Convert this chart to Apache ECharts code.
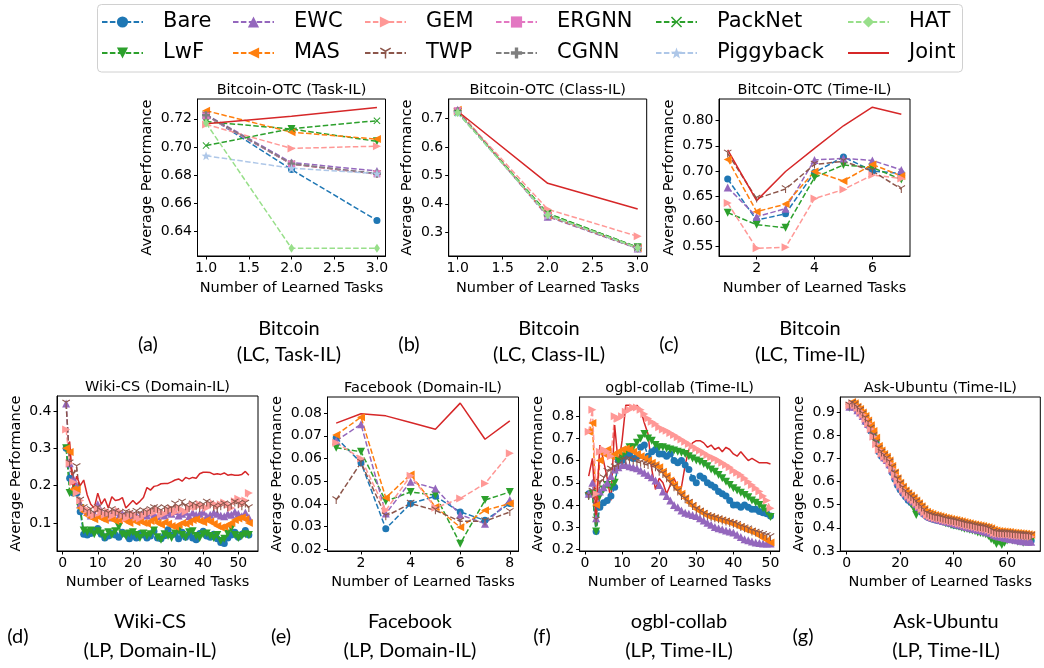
<!DOCTYPE html>
<html>
<head>
<meta charset="utf-8">
<script src="https://cdn.jsdelivr.net/npm/echarts@6/dist/echarts.min.js"></script>
<style>
html, body { margin: 0; padding: 0; background: #fff; }
#main { width: 1044px; height: 668px; }
</style>
</head>
<body>
<div id="main"></div>
<script>
// (a) Bitcoin-OTC Task-IL, tasks 1..3
const aTasks = [1, 2, 3];
const aBare = [0.7228, 0.684, 0.648];
const aLwF = [0.718, 0.7127, 0.704];
const aEWC = [0.723, 0.689, 0.683];
const aMAS = [0.7257, 0.7105, 0.7056];
const aGEM = [0.716, 0.699, 0.7006];
const aTWP = [0.7225, 0.6878, 0.6808];
const aERGNN = [0.722, 0.688, 0.681];
const aCGNN = [0.7225, 0.6882, 0.6812];
const aPackNet = [0.701, 0.713, 0.7186];
const aPiggyback = [0.6938, 0.685, 0.6812];
const aHAT = [0.717, 0.6283, 0.6283];
const aJoint = [0.7165, 0.7217, 0.728];

// (b) Bitcoin-OTC Class-IL
const bTasks = [1, 2, 3];
const bBare = [0.725, 0.36, 0.245];
const bLwF = [0.722, 0.365, 0.248];
const bEWC = [0.73, 0.355, 0.243];
const bMAS = [0.73, 0.358, 0.245];
const bGEM = [0.725, 0.381, 0.286];
const bTWP = [0.724, 0.36, 0.244];
const bERGNN = [0.727, 0.36, 0.245];
const bCGNN = [0.725, 0.36, 0.245];
const bPackNet = [0.72, 0.367, 0.247];
const bPiggyback = [0.72, 0.36, 0.245];
const bHAT = [0.72, 0.362, 0.246];
const bJoint = [0.725, 0.472, 0.382];

// (c) Bitcoin-OTC Time-IL, tasks 1..7
const cTasks = [1, 2, 3, 4, 5, 6, 7];
const cBare = [0.684, 0.602, 0.615, 0.697, 0.728, 0.700, 0.695];
const cLwF = [0.617, 0.593, 0.587, 0.687, 0.712, 0.707, 0.683];
const cEWC = [0.667, 0.609, 0.625, 0.722, 0.725, 0.721, 0.702];
const cMAS = [0.723, 0.619, 0.634, 0.699, 0.680, 0.713, 0.690];
const cGEM = [0.636, 0.546, 0.548, 0.645, 0.663, 0.692, 0.685];
const cTWP = [0.735, 0.645, 0.664, 0.713, 0.719, 0.700, 0.664];
const cJoint = [0.742, 0.641, 0.699, 0.745, 0.790, 0.827, 0.813];

// (d) Wiki-CS Domain-IL, 53 tasks
const dBare = [0.300, 0.220, 0.180, 0.180, 0.130, 0.070, 0.068, 0.072, 0.080, 0.085,
  0.070, 0.060, 0.065, 0.072, 0.068, 0.062, 0.075, 0.070, 0.058, 0.065,
  0.060, 0.072, 0.068, 0.060, 0.065, 0.078, 0.060, 0.058, 0.066, 0.082,
  0.068, 0.070, 0.058, 0.075, 0.062, 0.070, 0.060, 0.055, 0.072, 0.078,
  0.065, 0.062, 0.070, 0.058, 0.048, 0.045, 0.060, 0.068, 0.075, 0.062,
  0.070, 0.080, 0.068];
const dLwF = [0.300, 0.180, 0.180, 0.190, 0.140, 0.080, 0.075, 0.080, 0.070, 0.078,
  0.072, 0.062, 0.075, 0.068, 0.078, 0.090, 0.070, 0.065, 0.072, 0.075,
  0.068, 0.060, 0.072, 0.065, 0.070, 0.080, 0.062, 0.055, 0.070, 0.065,
  0.060, 0.072, 0.080, 0.068, 0.062, 0.075, 0.078, 0.065, 0.060, 0.070,
  0.072, 0.065, 0.060, 0.068, 0.052, 0.058, 0.072, 0.085, 0.068, 0.060,
  0.065, 0.070, 0.068];
const dEWC = [0.420, 0.260, 0.220, 0.200, 0.150, 0.140, 0.130, 0.120, 0.125, 0.150,
  0.130, 0.120, 0.115, 0.125, 0.130, 0.118, 0.125, 0.120, 0.115, 0.122,
  0.120, 0.118, 0.125, 0.120, 0.128, 0.122, 0.118, 0.125, 0.120, 0.128,
  0.125, 0.132, 0.120, 0.125, 0.130, 0.118, 0.128, 0.122, 0.125, 0.130,
  0.118, 0.122, 0.128, 0.125, 0.120, 0.118, 0.125, 0.122, 0.130, 0.125,
  0.118, 0.128, 0.115];
const dMAS = [0.300, 0.290, 0.190, 0.190, 0.140, 0.130, 0.120, 0.115, 0.110, 0.118,
  0.112, 0.108, 0.115, 0.110, 0.105, 0.108, 0.112, 0.105, 0.100, 0.108,
  0.102, 0.105, 0.100, 0.098, 0.105, 0.110, 0.100, 0.095, 0.102, 0.098,
  0.092, 0.090, 0.095, 0.100, 0.098, 0.102, 0.108, 0.110, 0.105, 0.102,
  0.108, 0.104, 0.098, 0.092, 0.088, 0.090, 0.095, 0.100, 0.108, 0.112,
  0.115, 0.110, 0.100];
const dGEM = [0.350, 0.260, 0.210, 0.180, 0.160, 0.140, 0.135, 0.125, 0.120, 0.140,
  0.128, 0.122, 0.130, 0.118, 0.125, 0.132, 0.120, 0.112, 0.118, 0.125,
  0.115, 0.112, 0.120, 0.125, 0.130, 0.128, 0.135, 0.122, 0.125, 0.132,
  0.138, 0.128, 0.140, 0.135, 0.130, 0.138, 0.148, 0.142, 0.150, 0.145,
  0.140, 0.148, 0.152, 0.145, 0.150, 0.155, 0.148, 0.140, 0.158, 0.165,
  0.150, 0.160, 0.180];
const dTWP = [0.420, 0.260, 0.230, 0.250, 0.160, 0.140, 0.130, 0.135, 0.125, 0.140,
  0.132, 0.128, 0.125, 0.135, 0.130, 0.125, 0.120, 0.128, 0.125, 0.122,
  0.130, 0.125, 0.132, 0.128, 0.135, 0.140, 0.138, 0.132, 0.140, 0.135,
  0.138, 0.150, 0.142, 0.155, 0.145, 0.140, 0.150, 0.145, 0.140, 0.148,
  0.155, 0.150, 0.142, 0.138, 0.145, 0.150, 0.142, 0.148, 0.155, 0.150,
  0.145, 0.152, 0.140];
const dJoint = [0.300, 0.318, 0.190, 0.225, 0.200, 0.215, 0.175, 0.150, 0.140, 0.180,
  0.150, 0.165, 0.140, 0.170, 0.160, 0.162, 0.168, 0.140, 0.150, 0.160,
  0.150, 0.158, 0.168, 0.195, 0.188, 0.198, 0.200, 0.205, 0.206, 0.206,
  0.210, 0.215, 0.218, 0.212, 0.222, 0.218, 0.222, 0.220, 0.232, 0.236,
  0.236, 0.235, 0.230, 0.232, 0.230, 0.234, 0.228, 0.230, 0.228, 0.228,
  0.230, 0.238, 0.228];

// (e) Facebook Domain-IL, tasks 1..8
const eTasks = [1, 2, 3, 4, 5, 6, 7, 8];
const eBare = [0.0692, 0.0582, 0.0291, 0.0402, 0.0434, 0.0365, 0.0328, 0.0402];
const eLwF = [0.0648, 0.0630, 0.0412, 0.0453, 0.0439, 0.0225, 0.0417, 0.0453];
const eEWC = [0.0678, 0.0751, 0.0358, 0.0498, 0.0468, 0.0353, 0.0313, 0.0417];
const eMAS = [0.0704, 0.0782, 0.0427, 0.0530, 0.0387, 0.0298, 0.0372, 0.0402];
const eGEM = [0.0670, 0.0600, 0.0372, 0.0524, 0.0383, 0.0424, 0.0490, 0.0623];
const eTWP = [0.0417, 0.0582, 0.0346, 0.0402, 0.0372, 0.0324, 0.0324, 0.0365];
const eJoint = [0.0756, 0.0797, 0.0788, 0.0759, 0.0729, 0.0844, 0.0685, 0.0766];

// (f) ogbl-collab Time-IL, 50 tasks
const fBare = [0.45, 0.45, 0.28, 0.39, 0.41, 0.42, 0.44, 0.48, 0.60, 0.60,
  0.62, 0.63, 0.61, 0.62, 0.66, 0.67, 0.62, 0.64, 0.65, 0.63,
  0.63, 0.62, 0.63, 0.60, 0.59, 0.60, 0.58, 0.56, 0.52, 0.50,
  0.53, 0.52, 0.50, 0.49, 0.48, 0.46, 0.45, 0.44, 0.42, 0.40,
  0.40, 0.39, 0.40, 0.39, 0.38, 0.38, 0.37, 0.365, 0.36, 0.35];
const fLwF = [0.44, 0.45, 0.28, 0.44, 0.47, 0.49, 0.48, 0.50, 0.60, 0.62,
  0.64, 0.66, 0.66, 0.68, 0.70, 0.72, 0.70, 0.69, 0.67, 0.66,
  0.66, 0.655, 0.65, 0.645, 0.64, 0.635, 0.63, 0.62, 0.61, 0.60,
  0.595, 0.585, 0.575, 0.56, 0.55, 0.535, 0.52, 0.505, 0.49, 0.475,
  0.465, 0.455, 0.445, 0.435, 0.42, 0.41, 0.40, 0.385, 0.37, 0.345];
const fEWC = [0.45, 0.50, 0.34, 0.46, 0.48, 0.50, 0.53, 0.56, 0.57, 0.58,
  0.58, 0.575, 0.57, 0.565, 0.555, 0.545, 0.535, 0.525, 0.51, 0.49,
  0.46, 0.44, 0.42, 0.40, 0.39, 0.375, 0.365, 0.36, 0.355, 0.35,
  0.34, 0.33, 0.32, 0.31, 0.30, 0.295, 0.29, 0.285, 0.28, 0.275,
  0.265, 0.255, 0.245, 0.24, 0.235, 0.23, 0.228, 0.226, 0.226, 0.226];
const fMAS = [0.73, 0.77, 0.40, 0.60, 0.63, 0.65, 0.62, 0.63, 0.64, 0.65,
  0.655, 0.65, 0.64, 0.63, 0.62, 0.61, 0.60, 0.59, 0.58, 0.57,
  0.55, 0.53, 0.51, 0.49, 0.47, 0.45, 0.43, 0.41, 0.395, 0.38,
  0.37, 0.36, 0.35, 0.345, 0.34, 0.335, 0.33, 0.325, 0.32, 0.315,
  0.305, 0.30, 0.29, 0.285, 0.28, 0.27, 0.26, 0.25, 0.24, 0.23];
const fGEM = [0.73, 0.83, 0.45, 0.64, 0.65, 0.64, 0.62, 0.80, 0.79, 0.80,
  0.82, 0.83, 0.84, 0.84, 0.83, 0.81, 0.79, 0.775, 0.765, 0.75,
  0.74, 0.735, 0.725, 0.715, 0.705, 0.695, 0.685, 0.675, 0.665, 0.655,
  0.645, 0.635, 0.625, 0.615, 0.61, 0.60, 0.59, 0.58, 0.57, 0.555,
  0.545, 0.535, 0.52, 0.505, 0.49, 0.475, 0.46, 0.44, 0.42, 0.385];
const fTWP = [0.44, 0.46, 0.33, 0.50, 0.52, 0.55, 0.56, 0.57, 0.58, 0.60,
  0.60, 0.605, 0.60, 0.595, 0.59, 0.585, 0.58, 0.575, 0.57, 0.55,
  0.54, 0.52, 0.50, 0.48, 0.46, 0.44, 0.425, 0.41, 0.395, 0.38,
  0.37, 0.36, 0.35, 0.345, 0.34, 0.335, 0.33, 0.325, 0.32, 0.315,
  0.31, 0.30, 0.295, 0.29, 0.28, 0.275, 0.27, 0.265, 0.26, 0.255];
const fJoint = [0.53, 0.61, 0.35, 0.67, 0.60, 0.52, 0.42, 0.76, 0.58, 0.69,
  0.85, 0.85, 0.83, 0.85, 0.83, 0.77, 0.72, 0.56, 0.47, 0.52,
  0.50, 0.45, 0.49, 0.52, 0.48, 0.48, 0.58, 0.65, 0.68, 0.69,
  0.69, 0.68, 0.66, 0.67, 0.65, 0.66, 0.64, 0.66, 0.65, 0.63,
  0.62, 0.64, 0.62, 0.60, 0.61, 0.60, 0.59, 0.59, 0.59, 0.585];

// (g) Ask-Ubuntu Time-IL, 69 tasks
const gBare = [0.925, 0.930, 0.930, 0.910, 0.900, 0.885, 0.860, 0.845, 0.820, 0.800,
  0.770, 0.730, 0.710, 0.700, 0.690, 0.670, 0.640, 0.610, 0.585, 0.565,
  0.550, 0.535, 0.520, 0.510, 0.500, 0.490, 0.478, 0.468, 0.458, 0.448,
  0.442, 0.438, 0.435, 0.432, 0.430, 0.426, 0.424, 0.420, 0.418, 0.412,
  0.410, 0.408, 0.406, 0.402, 0.400, 0.396, 0.394, 0.392, 0.388, 0.386,
  0.384, 0.382, 0.378, 0.375, 0.370, 0.365, 0.362, 0.360, 0.358, 0.356,
  0.354, 0.352, 0.350, 0.350, 0.348, 0.347, 0.346, 0.345, 0.344];
const gLwF = [0.920, 0.930, 0.925, 0.910, 0.895, 0.880, 0.865, 0.845, 0.825, 0.800,
  0.765, 0.735, 0.715, 0.700, 0.690, 0.672, 0.648, 0.620, 0.595, 0.575,
  0.555, 0.540, 0.525, 0.505, 0.485, 0.455, 0.480, 0.470, 0.455, 0.450,
  0.445, 0.440, 0.436, 0.432, 0.430, 0.425, 0.420, 0.418, 0.412, 0.410,
  0.408, 0.405, 0.400, 0.396, 0.395, 0.392, 0.388, 0.385, 0.380, 0.378,
  0.375, 0.372, 0.365, 0.350, 0.345, 0.330, 0.340, 0.325, 0.335, 0.345,
  0.350, 0.345, 0.348, 0.340, 0.345, 0.335, 0.342, 0.340, 0.345];
const gEWC = [0.925, 0.930, 0.925, 0.910, 0.900, 0.885, 0.865, 0.850, 0.830, 0.800,
  0.770, 0.740, 0.722, 0.706, 0.694, 0.676, 0.652, 0.625, 0.600, 0.580,
  0.562, 0.548, 0.535, 0.524, 0.514, 0.502, 0.490, 0.478, 0.465, 0.455,
  0.448, 0.444, 0.440, 0.437, 0.434, 0.430, 0.428, 0.425, 0.422, 0.420,
  0.416, 0.413, 0.410, 0.407, 0.404, 0.400, 0.398, 0.395, 0.392, 0.390,
  0.386, 0.383, 0.380, 0.376, 0.370, 0.366, 0.362, 0.360, 0.357, 0.355,
  0.352, 0.350, 0.348, 0.346, 0.344, 0.342, 0.341, 0.340, 0.340];
const gMAS = [0.935, 0.945, 0.940, 0.925, 0.915, 0.900, 0.885, 0.865, 0.845, 0.820,
  0.790, 0.755, 0.735, 0.720, 0.708, 0.692, 0.668, 0.640, 0.615, 0.595,
  0.578, 0.562, 0.550, 0.540, 0.530, 0.518, 0.506, 0.494, 0.482, 0.470,
  0.464, 0.460, 0.456, 0.453, 0.450, 0.447, 0.444, 0.441, 0.438, 0.436,
  0.434, 0.431, 0.428, 0.425, 0.422, 0.420, 0.417, 0.414, 0.412, 0.410,
  0.408, 0.405, 0.402, 0.398, 0.392, 0.388, 0.386, 0.385, 0.384, 0.383,
  0.382, 0.380, 0.379, 0.378, 0.376, 0.375, 0.374, 0.372, 0.370];
const gGEM = [0.930, 0.935, 0.930, 0.918, 0.905, 0.890, 0.872, 0.852, 0.828, 0.795,
  0.762, 0.738, 0.722, 0.708, 0.696, 0.680, 0.656, 0.630, 0.604, 0.584,
  0.566, 0.550, 0.538, 0.528, 0.518, 0.506, 0.494, 0.482, 0.468, 0.456,
  0.450, 0.446, 0.442, 0.440, 0.438, 0.435, 0.432, 0.429, 0.427, 0.425,
  0.422, 0.419, 0.416, 0.413, 0.410, 0.408, 0.406, 0.403, 0.400, 0.398,
  0.396, 0.394, 0.390, 0.386, 0.378, 0.374, 0.373, 0.372, 0.371, 0.371,
  0.370, 0.368, 0.367, 0.366, 0.365, 0.364, 0.363, 0.362, 0.361];
const gTWP = [0.930, 0.940, 0.932, 0.920, 0.908, 0.892, 0.874, 0.855, 0.830, 0.798,
  0.768, 0.742, 0.726, 0.712, 0.700, 0.684, 0.660, 0.635, 0.610, 0.590,
  0.572, 0.556, 0.544, 0.534, 0.524, 0.512, 0.500, 0.488, 0.475, 0.462,
  0.456, 0.452, 0.448, 0.446, 0.444, 0.440, 0.437, 0.434, 0.432, 0.430,
  0.427, 0.424, 0.421, 0.418, 0.415, 0.413, 0.411, 0.408, 0.405, 0.403,
  0.401, 0.399, 0.395, 0.391, 0.383, 0.379, 0.378, 0.377, 0.376, 0.376,
  0.375, 0.373, 0.372, 0.371, 0.370, 0.369, 0.368, 0.367, 0.366];
const gJoint = [0.930, 0.935, 0.925, 0.915, 0.905, 0.890, 0.870, 0.850, 0.825, 0.790,
  0.760, 0.735, 0.720, 0.708, 0.695, 0.680, 0.655, 0.630, 0.605, 0.585,
  0.568, 0.552, 0.540, 0.530, 0.520, 0.508, 0.496, 0.484, 0.470, 0.458,
  0.452, 0.448, 0.444, 0.442, 0.440, 0.437, 0.434, 0.431, 0.429, 0.427,
  0.424, 0.421, 0.418, 0.415, 0.412, 0.410, 0.408, 0.405, 0.402, 0.400,
  0.398, 0.396, 0.392, 0.388, 0.380, 0.376, 0.375, 0.374, 0.373, 0.373,
  0.372, 0.370, 0.369, 0.368, 0.367, 0.366, 0.365, 0.364, 0.363];

const legendCols = [['Bare', 'LwF'], ['EWC', 'MAS'], ['GEM', 'TWP'], ['ERGNN', 'CGNN'], ['PackNet', 'Piggyback'], ['HAT', 'Joint']];

// marker / colour per method (matplotlib tab10/tab20 look)
const STYLE = {
  Bare: { color: '#1f77b4', symbol: 'circle', size: 7 },
  LwF: { color: '#2ca02c', symbol: 'path://M0,0 L10,0 L5,10 Z', size: 8 },
  EWC: { color: '#9467bd', symbol: 'path://M5,0 L10,10 L0,10 Z', size: 8 },
  MAS: { color: '#ff7f0e', symbol: 'path://M0,5 L10,0 L10,10 Z', size: 8 },
  GEM: { color: '#ff9896', symbol: 'path://M10,5 L0,0 L0,10 Z', size: 8 },
  TWP: { color: '#8c564b', symbol: 'path://M4.4,4.6 L4.4,10 L5.6,10 L5.6,4.6 L9.6,2.3 L9,1.3 L5,3.6 L1,1.3 L0.4,2.3 Z', size: 8 },
  ERGNN: { color: '#e377c2', symbol: 'rect', size: 7 },
  CGNN: { color: '#7f7f7f', symbol: 'path://M3.5,0 L6.5,0 L6.5,3.5 L10,3.5 L10,6.5 L6.5,6.5 L6.5,10 L3.5,10 L3.5,6.5 L0,6.5 L0,3.5 L3.5,3.5 Z', size: 8 },
  PackNet: { color: '#2ca02c', symbol: 'path://M0,1 L1,0 L5,4 L9,0 L10,1 L6,5 L10,9 L9,10 L5,6 L1,10 L0,9 L4,5 Z', size: 7 },
  Piggyback: { color: '#aec7e8', symbol: 'path://M5,0.3 L6.18,3.68 L9.76,3.75 L6.9,5.92 L7.94,9.35 L5,7.3 L2.06,9.35 L3.1,5.92 L0.24,3.75 L3.82,3.68 Z', size: 9 },
  HAT: { color: '#98df8a', symbol: 'path://M3,0 L6,5 L3,10 L0,5 Z', size: [6, 9] },
  Joint: { color: '#d62728', symbol: 'none', size: 0 }
};

const seq = n => Array.from({ length: n }, (_, i) => i + 1);

function mk(name, gi, xs, ys) {
  const s = STYLE[name];
  return {
    name: name,
    type: 'line',
    xAxisIndex: gi,
    yAxisIndex: gi,
    data: xs.map((x, i) => [x, ys[i]]),
    symbol: s.symbol,
    symbolSize: s.size,
    showSymbol: name !== 'Joint',
    showAllSymbol: true,
    lineStyle: { color: s.color, width: 1.5, type: name === 'Joint' ? 'solid' : [5.5, 2.4] },
    itemStyle: { color: s.color },
    emphasis: { disabled: true },
    animation: false
  };
}

const FONT = 'DejaVu Sans';
const GRIDS = [
  { left: 197.5, top: 99, width: 188, height: 157 },
  { left: 448.7, top: 99, width: 198, height: 157 },
  { left: 719, top: 99, width: 191, height: 157 },
  { left: 57, top: 396, width: 201, height: 155 },
  { left: 327.5, top: 397, width: 191, height: 154 },
  { left: 579.6, top: 397, width: 200, height: 154 },
  { left: 840.3, top: 397, width: 200, height: 154 }
];
const TITLES = ['Bitcoin-OTC (Task-IL)', 'Bitcoin-OTC (Class-IL)', 'Bitcoin-OTC (Time-IL)',
  'Wiki-CS (Domain-IL)', 'Facebook (Domain-IL)', 'ogbl-collab (Time-IL)', 'Ask-Ubuntu (Time-IL)'];
const XCFG = [
  [0.9, 3.1, [1, 1.5, 2, 2.5, 3], 1],
  [0.9, 3.1, [1, 1.5, 2, 2.5, 3], 1],
  [0.7, 7.3, [2, 4, 6], 0],
  [-1.6, 55.6, [0, 10, 20, 30, 40, 50], 0],
  [0.65, 8.35, [2, 4, 6, 8], 0],
  [-1.45, 52.45, [0, 10, 20, 30, 40, 50], 0],
  [-2.4, 72.4, [0, 20, 40, 60], 0]
];
const YCFG = [
  [0.6228, 0.734, [0.64, 0.66, 0.68, 0.70, 0.72], 2, 43],
  [0.217, 0.768, [0.3, 0.4, 0.5, 0.6, 0.7], 1, 34],
  [0.5307, 0.8433, [0.55, 0.6, 0.65, 0.7, 0.75, 0.8], 2, 42.5],
  [0.025, 0.44, [0.1, 0.2, 0.3, 0.4], 1, 33],
  [0.0193, 0.0871, [0.02, 0.03, 0.04, 0.05, 0.06, 0.07, 0.08], 2, 43],
  [0.192, 0.887, [0.2, 0.3, 0.4, 0.5, 0.6, 0.7, 0.8], 1, 34],
  [0.2995, 0.967, [0.3, 0.4, 0.5, 0.6, 0.7, 0.8, 0.9], 1, 34]
];

function axisCommon(ticks, dec) {
  return {
    type: 'value',
    axisLine: { show: true, onZero: false, lineStyle: { color: '#000', width: 1 } },
    axisTick: { show: true, inside: false, length: 3.5, customValues: ticks, lineStyle: { color: '#000', width: 1 } },
    axisLabel: { customValues: ticks, formatter: v => Number(v).toFixed(dec), margin: 5.5, color: '#000', fontSize: 14, fontFamily: FONT },
    splitLine: { show: false },
    nameTextStyle: { color: '#000', fontSize: 14.5, fontFamily: FONT }
  };
}

const series = [];
function addAll(gi, xs, names, arrs) {
  names.forEach((n, k) => series.push(mk(n, gi, xs, arrs[k])));
}
const all12 = ['Bare', 'LwF', 'EWC', 'MAS', 'GEM', 'TWP', 'ERGNN', 'CGNN', 'PackNet', 'Piggyback', 'HAT', 'Joint'];
const seven = ['Bare', 'LwF', 'EWC', 'MAS', 'GEM', 'TWP', 'Joint'];
addAll(0, aTasks, all12, [aBare, aLwF, aEWC, aMAS, aGEM, aTWP, aERGNN, aCGNN, aPackNet, aPiggyback, aHAT, aJoint]);
addAll(1, bTasks, all12, [bBare, bLwF, bEWC, bMAS, bGEM, bTWP, bERGNN, bCGNN, bPackNet, bPiggyback, bHAT, bJoint]);
addAll(2, cTasks, seven, [cBare, cLwF, cEWC, cMAS, cGEM, cTWP, cJoint]);
addAll(3, seq(dJoint.length), seven, [dBare, dLwF, dEWC, dMAS, dGEM, dTWP, dJoint]);
addAll(4, eTasks, seven, [eBare, eLwF, eEWC, eMAS, eGEM, eTWP, eJoint]);
addAll(5, seq(fJoint.length), seven, [fBare, fLwF, fEWC, fMAS, fGEM, fTWP, fJoint]);
addAll(6, seq(gJoint.length), seven, [gBare, gLwF, gEWC, gMAS, gGEM, gTWP, gJoint]);

const legendLeft = [101, 232, 364, 495, 655, 847];

// sub-captions under each panel
const CAPS = [
  ['(a)', 148, 345, 'Bitcoin', '(LC, Task-IL)', 289, 329, 355],
  ['(b)', 409, 345, 'Bitcoin', '(LC, Class-IL)', 549, 329, 355],
  ['(c)', 669, 345, 'Bitcoin', '(LC, Time-IL)', 810, 329, 355],
  ['(d)', 18, 637, 'Wiki-CS', '(LP, Domain-IL)', 150, 622, 651],
  ['(e)', 281, 637, 'Facebook', '(LP, Domain-IL)', 410, 622, 651],
  ['(f)', 542, 637, 'ogbl-collab', '(LP, Time-IL)', 679, 622, 651],
  ['(g)', 803, 637, 'Ask-Ubuntu', '(LP, Time-IL)', 946, 622, 651]
];
const capFont = '20px Lato';
const graphics = [{
  type: 'rect', silent: true, z: 0,
  shape: { x: 97.5, y: 4.5, width: 865, height: 67.5, r: 4 },
  style: { fill: '#fff', stroke: '#d0d0d0', lineWidth: 1 }
}];
CAPS.forEach(c => {
  graphics.push({ type: 'text', x: c[1], y: c[2], style: { text: c[0], font: capFont, fill: '#000', align: 'center', verticalAlign: 'middle' } });
  graphics.push({ type: 'text', x: c[5], y: c[6], style: { text: c[3], font: capFont, fill: '#000', align: 'center', verticalAlign: 'middle' } });
  graphics.push({ type: 'text', x: c[5], y: c[7], style: { text: c[4], font: capFont, fill: '#000', align: 'center', verticalAlign: 'middle' } });
});

const option = {
  backgroundColor: '#fff',
  animation: false,
  title: GRIDS.map((g, i) => ({
    text: TITLES[i],
    left: g.left + g.width / 2,
    top: g.top - 16,
    textAlign: 'center',
    padding: 0,
    textStyle: { fontSize: 14.5, fontWeight: 'normal', fontFamily: FONT, color: '#000' }
  })),
  legend: legendCols.map((d, i) => ({
    // Joint is a plain line: hide the legend marker
    data: d.map(n => n === 'Joint' ? { name: n, itemStyle: { opacity: 0 } } : n),
    orient: 'vertical',
    left: legendLeft[i],
    top: 11.5,
    padding: 0,
    itemGap: 10,
    itemWidth: 41,
    itemHeight: 14,
    selectedMode: false,
    textStyle: { fontSize: 21, fontFamily: FONT, color: '#000', padding: [0, 0, 0, 15] }
  })),
  grid: GRIDS.map(g => Object.assign({ show: true, borderColor: '#000', borderWidth: 1, backgroundColor: 'transparent' }, g)),
  xAxis: XCFG.map((c, i) => Object.assign(axisCommon(c[2], c[3]), {
    gridIndex: i, min: c[0], max: c[1],
    name: 'Number of Learned Tasks', nameLocation: 'middle', nameGap: i < 3 ? 25 : 24
  })),
  yAxis: YCFG.map((c, i) => Object.assign(axisCommon(c[2], c[3]), {
    gridIndex: i, min: c[0], max: c[1],
    name: 'Average Performance', nameLocation: 'middle', nameGap: c[4]
  })),
  graphic: graphics,
  series: series
};

const chart = echarts.init(document.getElementById('main'), null, { renderer: 'canvas' });
chart.setOption(option);
</script>
</body>
</html>
